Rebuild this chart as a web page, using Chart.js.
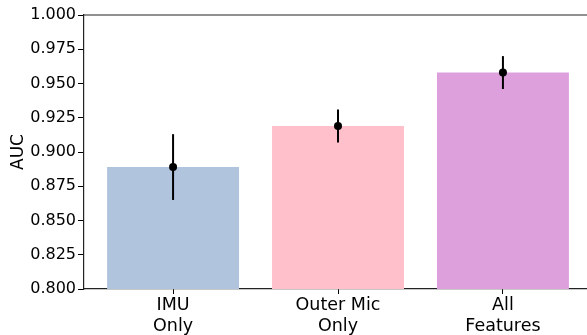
<!DOCTYPE html>
<html>
<head>
<meta charset="utf-8">
<script src="https://cdn.jsdelivr.net/npm/chart.js@4/dist/chart.umd.min.js"></script>
<style>
  html, body { margin: 0; padding: 0; background: #fff; overflow: hidden; }
  #wrap { width: 587px; height: 335px; overflow: hidden; }
</style>
</head>
<body>
<div id="wrap"><canvas id="c" width="600" height="335"></canvas></div>
<script>
// Feature sets compared
const categories = [['IMU', 'Only'], ['Outer Mic', 'Only'], ['All', 'Features']];
// Mean AUC per feature set
const auc = [0.889, 0.919, 0.958];
// Error bar half-widths (±)
const aucErr = [0.024, 0.012, 0.012];
// Y-axis ticks
const yTicks = [0.800, 0.825, 0.850, 0.875, 0.900, 0.925, 0.950, 0.975, 1.000];
const barColors = ['#B0C4DE', '#FFC0CB', '#DDA0DD'];

const FONT = 'DejaVu Sans';

// Top and right frame lines around the plotting area
const framePlugin = {
  id: 'frame',
  afterDatasetsDraw(chart) {
    const { ctx, chartArea: a } = chart;
    ctx.save();
    ctx.strokeStyle = '#222';
    ctx.lineWidth = 1.2;
    ctx.beginPath();
    ctx.moveTo(a.left, a.top);
    ctx.lineTo(a.right, a.top);
    ctx.lineTo(a.right, a.bottom);
    ctx.stroke();
    ctx.restore();
  }
};

// Vertical error bars with a dot at the mean
const errorBarPlugin = {
  id: 'errorBars',
  afterDatasetsDraw(chart) {
    const { ctx } = chart;
    const yScale = chart.scales.y;
    const meta = chart.getDatasetMeta(0);
    ctx.save();
    meta.data.forEach((bar, i) => {
      const x = bar.x;
      const yLo = yScale.getPixelForValue(auc[i] - aucErr[i]);
      const yHi = yScale.getPixelForValue(auc[i] + aucErr[i]);
      const yMid = yScale.getPixelForValue(auc[i]);
      ctx.strokeStyle = '#000';
      ctx.lineWidth = 2;
      ctx.beginPath();
      ctx.moveTo(x, yLo);
      ctx.lineTo(x, yHi);
      ctx.stroke();
      ctx.fillStyle = '#000';
      ctx.beginPath();
      ctx.arc(x, yMid, 4, 0, Math.PI * 2);
      ctx.fill();
    });
    ctx.restore();
  }
};

new Chart(document.getElementById('c'), {
  type: 'bar',
  data: {
    datasets: [{
      data: auc.map((v, i) => ({ x: i, y: v })),
      backgroundColor: barColors,
      borderWidth: 0,
      barPercentage: 0.8,
      categoryPercentage: 1.0
    }]
  },
  options: {
    responsive: false,
    animation: false,
    events: [],
    layout: { padding: { left: 0, right: 8, top: 15, bottom: 0 } },
    plugins: { legend: { display: false }, tooltip: { enabled: false } },
    scales: {
      x: {
        type: 'linear',
        min: -0.54,
        max: 2.54,
        offset: false,
        afterBuildTicks(scale) {
          scale.ticks = categories.map((_, i) => ({ value: i }));
        },
        afterFit(scale) { scale.height = 46; },
        ticks: {
          autoSkip: false,
          maxRotation: 0,
          padding: 1,
          color: '#000',
          font: { family: FONT, size: 17.5, lineHeight: 1.2 },
          callback: (v) => categories[v]
        },
        grid: { offset: false, drawOnChartArea: false, drawTicks: true, tickLength: 5, color: '#000', tickWidth: 1 },
        border: { display: true, color: '#222', width: 1.2 }
      },
      y: {
        min: 0.8,
        max: 1.0,
        afterBuildTicks(scale) {
          scale.ticks = yTicks.map(v => ({ value: v }));
        },
        afterFit(scale) { scale.width = 84; },
        ticks: {
          padding: 2,
          color: '#000',
          font: { family: FONT, size: 16 },
          callback: (v) => Number(v).toFixed(3)
        },
        grid: { drawOnChartArea: false, drawTicks: true, tickLength: 6, color: '#000', tickWidth: 1 },
        border: { display: true, color: '#222', width: 1.2 },
        title: {
          display: true,
          text: 'AUC',
          color: '#000',
          font: { family: FONT, size: 17 },
          padding: { top: 8, bottom: 0 }
        }
      }
    }
  },
  plugins: [framePlugin, errorBarPlugin]
});
</script>
</body>
</html>
